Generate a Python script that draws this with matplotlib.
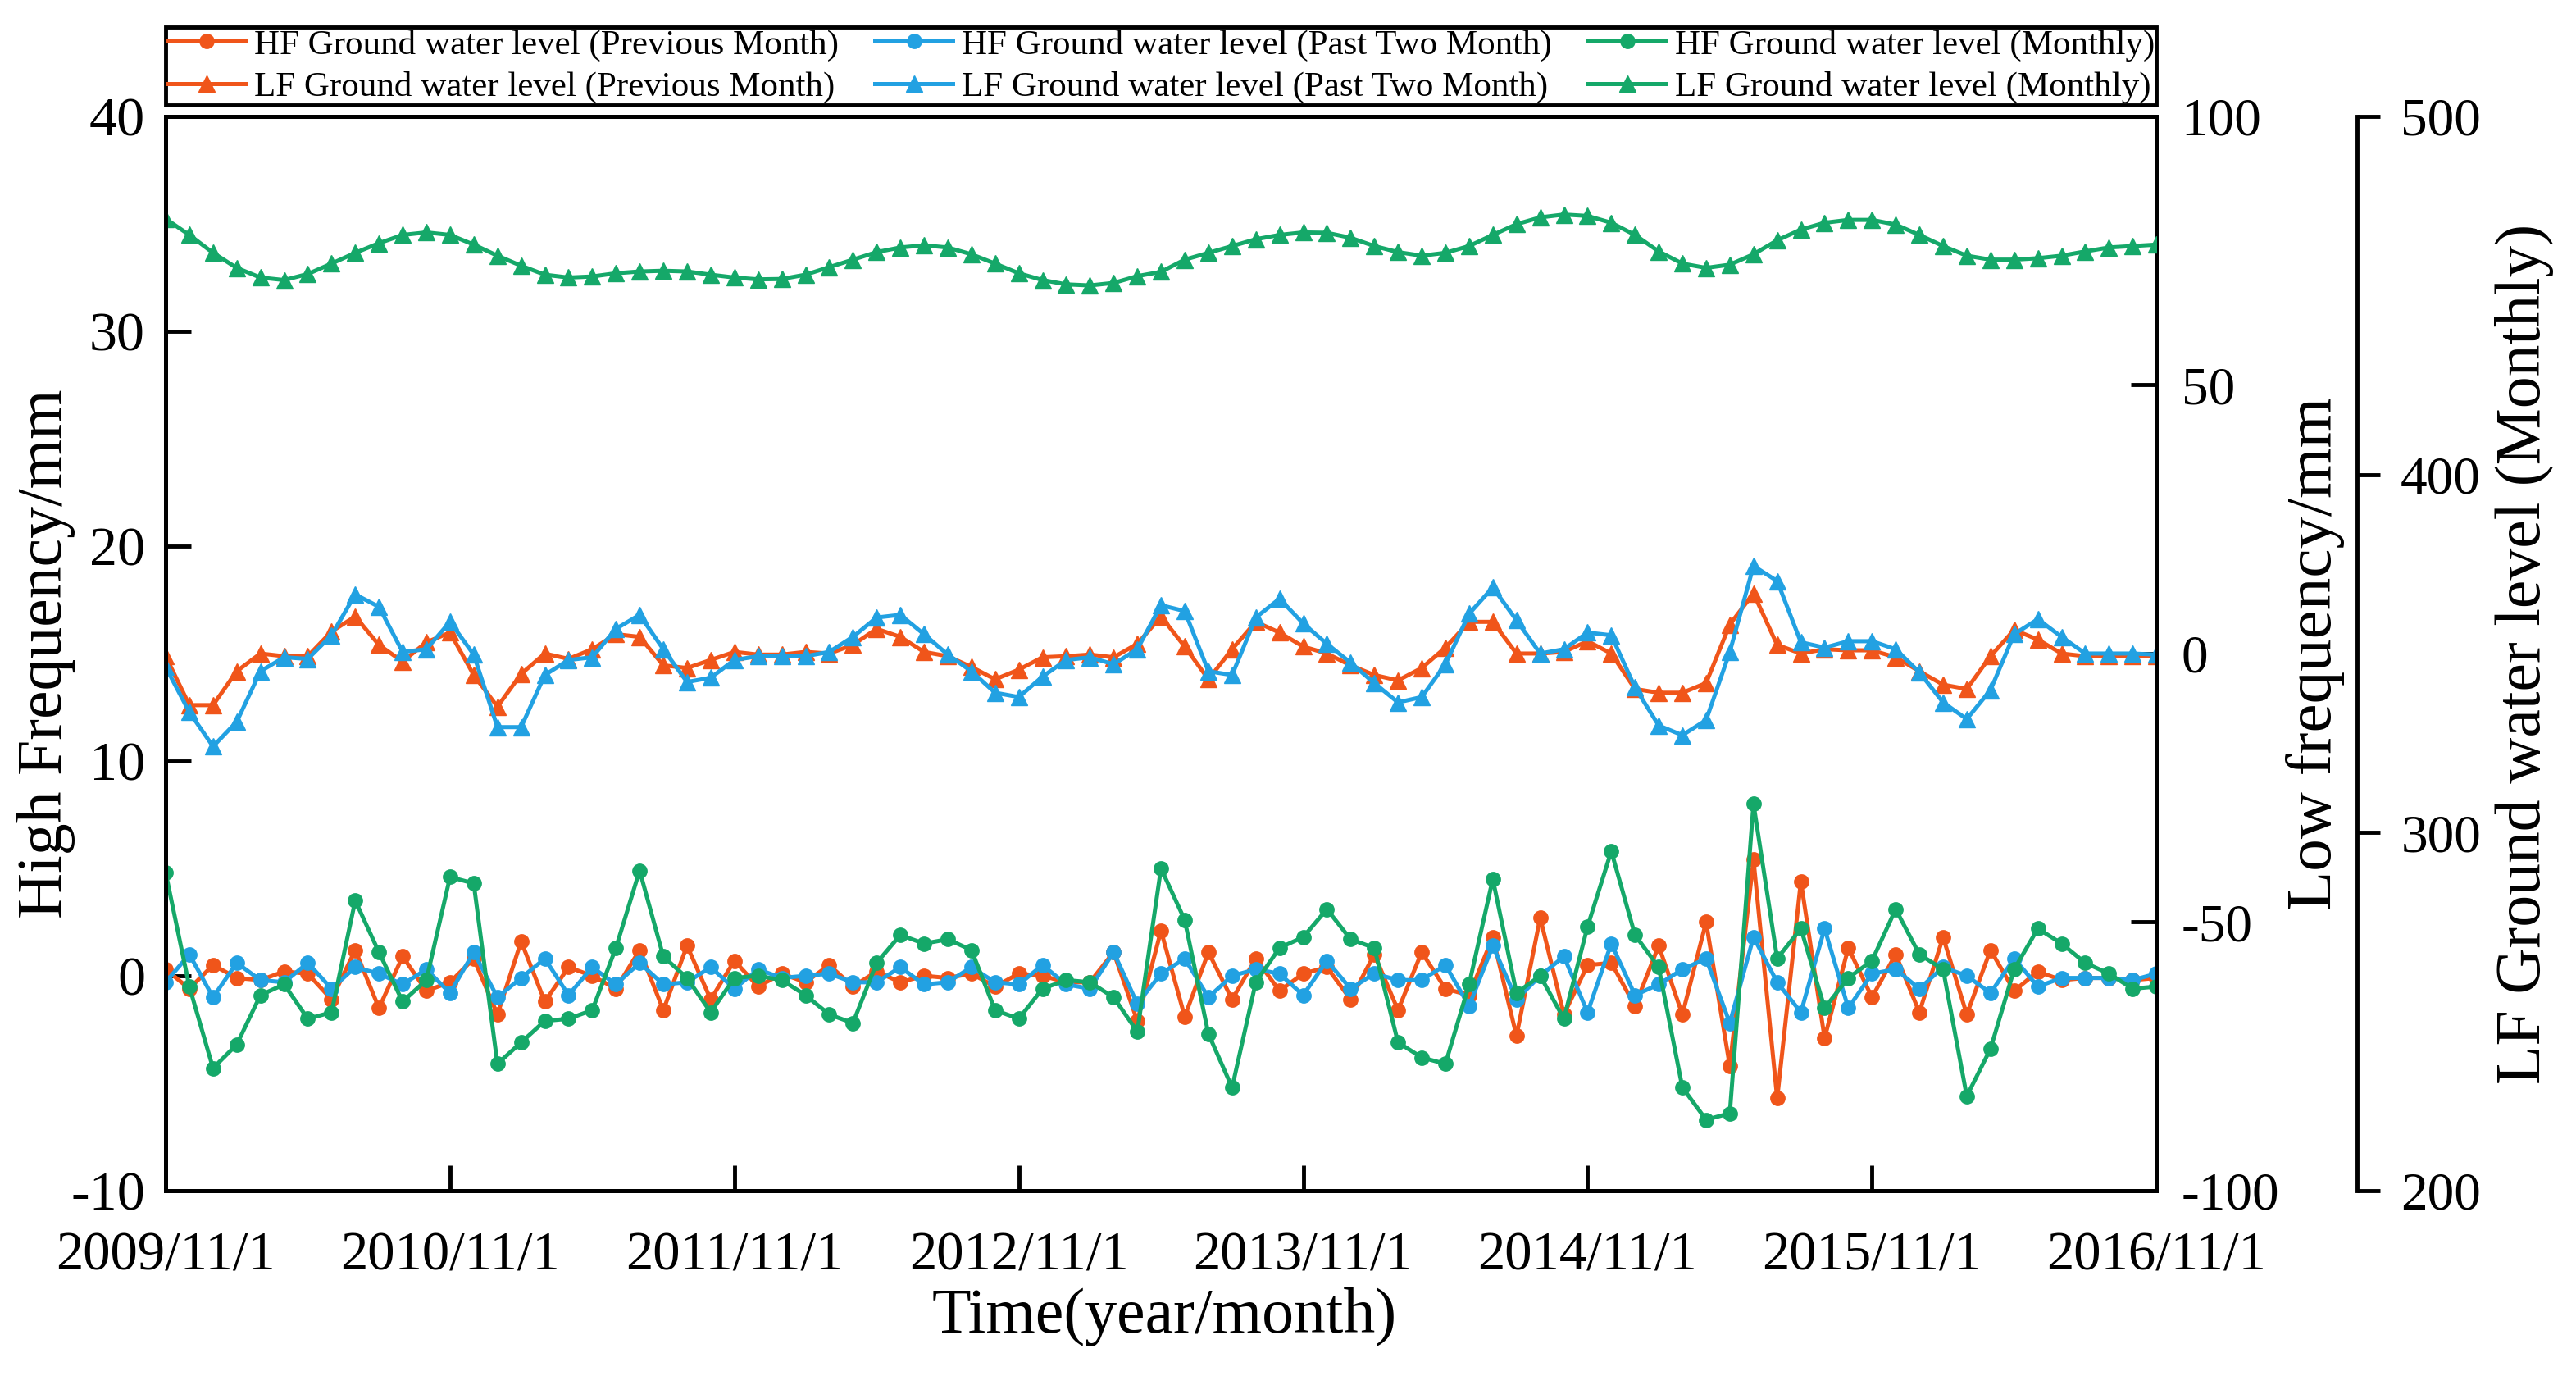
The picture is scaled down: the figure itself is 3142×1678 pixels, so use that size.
import numpy as np
import matplotlib
matplotlib.use('Agg')
import matplotlib.pyplot as plt

plt.rcParams['font.family'] = ['Liberation Serif', 'DejaVu Serif']
plt.rcParams['axes.unicode_minus'] = False

# month index 0 = 2009/11 ... 84 = 2016/11
months = np.arange(85)
xtick_pos = [0, 12, 24, 36, 48, 60, 72, 84]
xtick_labels = ['2009/11/1', '2010/11/1', '2011/11/1', '2012/11/1',
                '2013/11/1', '2014/11/1', '2015/11/1', '2016/11/1']

# high frequency (left axis, mm)
hf_prev = [0.3, -0.6, 0.5, -0.1, -0.2, 0.2, 0.1, -1.1, 1.2, -1.5, 0.9, -0.7, -0.3, 0.8, -1.8, 1.6, -1.2, 0.4, 0, -0.6,
           1.2, -1.6, 1.4, -1.1, 0.7, -0.5, 0.1, -0.3, 0.5,
           -0.5, 0.2, -0.3, 0, -0.1, 0.1, -0.5, 0.1, 0, -0.3, -0.3, 1.1, -2.1, 2.1, -1.9, 1.1, -1.1, 0.8, -0.7, 0.1,
           0.4, -1.1, 1.0, -1.6, 1.1, -0.6, -0.9,
           1.8, -2.8, 2.7, -1.8, 0.5, 0.6, -1.4, 1.4, -1.8, 2.5, -4.2, 5.4, -5.7, 4.4, -2.9, 1.3, -1.0, 1.0, -1.7,
           1.8, -1.8, 1.2, -0.7, 0.2, -0.2, -0.1, -0.1, -0.2, -0.1]
hf_past2 = [-0.3, 1.0, -1.0, 0.6, -0.2, -0.3, 0.6, -0.6, 0.4, 0.1, -0.4, 0.3, -0.8, 1.1, -1.0, -0.1, 0.8, -0.9, 0.4, -0.4,
            0.6, -0.4, -0.3, 0.4, -0.6, 0.3, -0.1, 0, 0.1,
            -0.3, -0.3, 0.4, -0.4, -0.3, 0.4, -0.3, -0.4, 0.5, -0.4, -0.6, 1.1, -1.3, 0.1, 0.8, -1.0, 0, 0.3, 0.1,
            -0.9, 0.7, -0.6, 0.1, -0.2, -0.2, 0.5, -1.4,
            1.4, -1.1, 0, 0.9, -1.7, 1.5, -0.9, -0.4, 0.3, 0.8, -2.2, 1.8, -0.3, -1.7, 2.2, -1.5, 0.1, 0.3, -0.6,
            0.4, 0, -0.8, 0.8, -0.5, -0.1, -0.1, -0.1, -0.2, 0.1]
hf_monthly = [4.8, -0.5, -4.3, -3.2, -0.9, -0.4, -2.0, -1.7, 3.5, 1.1, -1.2, -0.2, 4.6, 4.3, -4.1, -3.1, -2.1, -2.0,
              -1.6, 1.3, 4.9, 0.9, -0.1, -1.7, -0.1, 0, -0.2, -0.9, -1.8,
              -2.2, 0.6, 1.9, 1.5, 1.7, 1.2, -1.6, -2.0, -0.6, -0.2, -0.3, -1.0, -2.6, 5.0, 2.6, -2.7, -5.2, -0.3,
              1.3, 1.8, 3.1, 1.7, 1.3, -3.1, -3.8, -4.1, -0.4,
              4.5, -0.8, 0, -2.0, 2.3, 5.8, 1.9, 0.4, -5.2, -6.7, -6.4, 8.0, 0.8, 2.2, -1.5, -0.1, 0.7, 3.1, 1.0,
              0.3, -5.6, -3.4, 0.3, 2.2, 1.5, 0.6, 0.1, -0.6, -0.5]

# low frequency (right axis, mm)
lf_prev = [-0.5, -9.6, -9.6, -3.3, 0, -0.5, -0.5, 4.1, 6.9, 1.6, -1.5, 2.1, 3.9, -4.0, -9.9, -3.8, 0, -1.0, 0.8, 3.6,
           3.1, -2.2, -2.7, -1.2, 0.3, -0.2, -0.2, 0.3,
           0, 1.6, 4.6, 3.1, 0.3, -0.5, -2.5, -4.8, -3.0, -0.7, -0.5, -0.2, -0.7, 1.8, 6.9, 1.3, -4.8, 0.8, 5.9,
           3.9, 1.3, 0, -2.2, -4.0, -5.0, -2.7, 1.1, 5.9,
           5.9, 0, 0, 0.3, 2.3, 0, -6.6, -7.3, -7.3, -5.5, 5.4, 11.2, 1.6, 0, 0.8, 0.6, 0.6, -0.7, -3.3, -5.8,
           -6.6, -0.5, 4.4, 2.6, 0, -0.5, -0.5, -0.5, -0.5]
lf_past2 = [-2.5, -10.9, -17.3, -12.7, -3.3, -0.7, -1.0, 3.4, 11.0, 8.7, 0.3, 0.8, 5.9, -0.2, -13.7, -13.7, -4.0, -1.2,
            -0.7, 4.6, 7.2, 0.8, -5.3, -4.5, -1.2, -0.5, -0.5, -0.5,
            0.3, 3.1, 6.7, 7.2, 3.6, -0.2, -3.3, -7.3, -8.1, -4.3, -1.2, -0.7, -2.0, 0.8, 9.0, 7.9, -3.3, -4.0,
            6.7, 10.2, 5.6, 1.8, -1.7, -5.5, -9.1, -8.1, -2.0, 7.4,
            12.3, 6.2, 0, 0.8, 3.9, 3.4, -6.3, -13.4, -15.2, -12.4, 0.3, 16.3, 13.5, 2.1, 1.1, 2.3, 2.3, 0.8,
            -3.5, -9.1, -12.2, -6.8, 3.6, 6.4, 3.1, 0, 0, 0, -0.2]
# LF ground water level (monthly), third axis
lf_monthly = [471.4, 466.9, 461.9, 457.7, 455.0, 454.3, 456.0, 458.9, 461.9, 464.6, 466.9, 467.6, 466.9, 464.2,
              461.1, 458.3, 455.8, 455.0, 455.3, 456.2, 456.7, 456.9, 456.7, 455.8, 455.0, 454.5, 454.6, 455.8,
              457.9, 460.0, 462.1, 463.4, 464.0, 463.4, 461.5, 458.9, 456.2, 454.3, 453.1, 452.8, 453.5, 455.4,
              456.6, 460.0, 461.9, 463.8, 465.7, 466.9, 467.6, 467.5, 466.1, 463.8, 462.1, 461.1, 461.9, 463.8,
              466.9, 469.9, 471.8, 472.6, 472.2, 470.3, 466.9, 462.3, 458.9, 457.7, 458.6, 461.5, 465.4, 468.4,
              470.3, 471.1, 471.1, 469.8, 466.9, 463.8, 461.1, 460.0, 460.0, 460.4, 461.1, 462.3, 463.4, 463.8,
              464.2]

c_orange = '#F0551A'
c_blue = '#22A1E2'
c_green = '#15A869'
lw = 3.6
ms_c = 12.5
ms_t = 14

fig = plt.figure(figsize=(31.42, 16.78), dpi=100)
ax = fig.add_axes([0.0643, 0.1347, 0.7728, 0.7807])
ax2 = ax.twinx()
ax3 = ax.twinx()
ax3.spines['right'].set_position(('axes', 1.101))

l1, = ax.plot(months, hf_prev, '-o', color=c_orange, lw=lw, ms=ms_c, label='HF Ground water level (Previous Month)')
l3, = ax.plot(months, hf_past2, '-o', color=c_blue, lw=lw, ms=ms_c, label='HF Ground water level (Past Two Month)')
l5, = ax.plot(months, hf_monthly, '-o', color=c_green, lw=lw, ms=ms_c, label='HF Ground water level (Monthly)')
l2, = ax2.plot(months, lf_prev, '-^', color=c_orange, lw=lw, ms=ms_t, label='LF Ground water level (Previous Month)')
l4, = ax2.plot(months, lf_past2, '-^', color=c_blue, lw=lw, ms=ms_t, label='LF Ground water level (Past Two Month)')
l6, = ax3.plot(months, lf_monthly, '-^', color=c_green, lw=lw, ms=ms_t, label='LF Ground water level (Monthly)')

ax.set_xlim(0, 84)
ax.set_ylim(-10, 40)
ax2.set_ylim(-100, 100)
ax3.set_ylim(200, 500)
ax.set_xticks(xtick_pos)
ax.set_xticklabels(xtick_labels)
ax.set_yticks([-10, 0, 10, 20, 30, 40])
ax2.set_yticks([-100, -50, 0, 50, 100])
ax3.set_yticks([200, 300, 400, 500])

for a in (ax, ax2, ax3):
    for s in a.spines.values():
        s.set_linewidth(3.5)
ax.tick_params(axis='x', direction='in', length=22, width=3.5, labelsize=48, pad=36)
ax.tick_params(axis='y', direction='in', length=22, width=3.5, labelsize=49, pad=18)
ax2.tick_params(axis='y', direction='in', length=22, width=3.5, labelsize=47, pad=22)
ax3.tick_params(axis='y', direction='out', length=20, width=3.5, labelsize=47, pad=18)

ax.set_xlabel('Time(year/month)', fontsize=56, va='center')
ax.xaxis.set_label_coords(0.5016, -0.1176)
ax.set_ylabel('High Frequency/mm', fontsize=56, va='center')
ax.yaxis.set_label_coords(-0.060, 0.5)
ax2.set_ylabel('Low frequency/mm', fontsize=57, va='center')
ax2.yaxis.set_label_coords(1.080, 0.5)
ax3.set_ylabel('LF Ground water level (Monthly)', fontsize=56, va='center')
ax3.yaxis.set_label_coords(1.185, 0.5)

leg = ax3.legend([l1, l2, l3, l4, l5, l6], [h.get_label() for h in [l1, l2, l3, l4, l5, l6]],
                 loc='lower left', bbox_to_anchor=(0, 1.0107, 1, 0), mode='expand', ncol=3,
                 fontsize=31, frameon=True, fancybox=False, edgecolor='black', framealpha=1,
                 borderaxespad=0, borderpad=0.05, labelspacing=0.28, handlelength=2.2,
                 handletextpad=0.25, columnspacing=0.9)
leg.get_frame().set_linewidth(3.5)

plt.savefig('out.png', dpi=100)
